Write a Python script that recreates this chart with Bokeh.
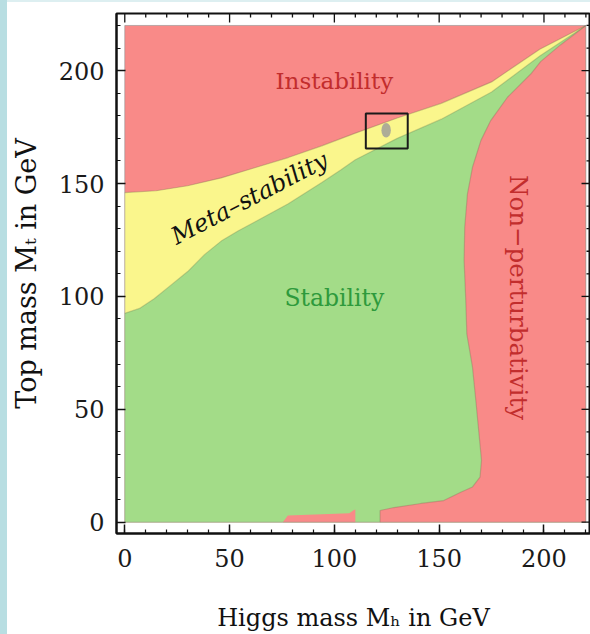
import math
from bokeh.plotting import figure
from bokeh.models import SingleIntervalTicker, Div, Range1d
from bokeh.layouts import row, column
from bokeh.embed import file_html
from bokeh.resources import INLINE
from bokeh.core.properties import value

# ---- data (GeV) ----
# boundary between Instability (above) and Meta-stability (below)
upper_x = [0, 15, 30, 46, 62, 78, 94, 110, 130, 151, 175, 198, 220]
upper_y = [146, 146.8, 149, 152.5, 157, 161.5, 166.7, 172.3, 179, 185.5, 195, 209.5, 220]
# boundary between Meta-stability (above) and Stability (below)
lower_x = [0, 7, 14, 22, 30, 38, 46, 54, 62, 78, 94, 103, 110, 130, 151, 175, 198, 220]
lower_y = [92.5, 94.7, 99, 105, 111, 118.5, 124.5, 129, 133, 141, 150.5, 156, 160.5, 170, 178.5, 190.5, 206.5, 220]
# Non-perturbativity boundary (from the top corner downwards)
np_x = [220, 208, 198.4, 193.7, 182.6, 174.6, 169.9, 165.9, 163.5, 162.2, 161.9, 162.7, 163.2,
        165.9, 167.5, 169.0, 170.2, 169.5, 165.9, 160.3, 152.2, 141.3, 128.4, 121.8, 121.8]
np_y = [220, 211.5, 204, 198.5, 188.2, 177.9, 169, 157.2, 145.4, 130.6, 115.9, 98.2, 83.4,
        68.7, 53.9, 39.2, 27.4, 20, 15.6, 13.3, 9.6, 8.3, 6.5, 5.2, 0]
# small non-perturbative patch at the bottom
np2_x = [75.4, 77.8, 107.1, 109.5, 110, 110]
np2_y = [0, 3.0, 4.0, 5.5, 5.5, 0]
# experimental box and point
box_x = [115, 135]
box_y = [165.5, 181]
pt_x = [124.7]
pt_y = [173.6]
region_max = 220
tick_step = 10
major_step = 50

label_text = ["Instability", "Stability"]
label_x = [100, 100]
label_y = [195.5, 99.5]

RED = "#F98A88"
YEL = "#FAF68C"
GRN = "#A3DC88"
SERIF = "DejaVu Serif"

X0, X1 = -3.95, 222.2
Y0, Y1 = -5.0, 225.3
FW, FH = 475, 520  # frame size in px

p = figure(width=583, height=632, x_range=Range1d(X0, X1), y_range=Range1d(Y0, Y1),
           output_backend="svg", toolbar_location=None,
           min_border_left=108, min_border_right=0, min_border_top=11, min_border_bottom=101)
p.outline_line_color = "#111111"
p.outline_line_width = 2
p.grid.visible = False
p.background_fill_color = "white"
p.border_fill_color = "white"

# regions
p.patch([0, 0, region_max, region_max], [0, region_max, region_max, 0], fill_color=RED, line_color=None)
p.patch([0] + upper_x + [region_max], [0] + upper_y + [0], fill_color=YEL, line_color=None)
p.patch([0] + lower_x + [region_max], [0] + lower_y + [0], fill_color=GRN, line_color=None)
p.patch(np_x + [region_max], np_y + [0], fill_color=RED, line_color=None)
p.patch(np2_x, np2_y, fill_color=RED, line_color=None)

# soft region edges
p.line(upper_x, upper_y, line_color="#7a6a50", line_alpha=0.35, line_width=1.2)
p.line(lower_x, lower_y, line_color="#6a7a50", line_alpha=0.3, line_width=1.2)
p.line(np_x, np_y, line_color="#806050", line_alpha=0.3, line_width=1.2)
p.line([0, 0, region_max, region_max, 0], [0, region_max, region_max, 0, 0],
       line_color="#909090", line_alpha=0.6, line_width=1)

# experimental point and box
p.ellipse(x=pt_x, y=pt_y, width=4.5, height=6.5, fill_color="#9a9a9a", fill_alpha=0.8, line_color=None)
p.quad(left=[box_x[0]], right=[box_x[1]], bottom=[box_y[0]], top=[box_y[1]],
       fill_color=None, line_color="#1a1a1a", line_width=2)

# region labels
p.text(x=[label_x[0]], y=[label_y[0]], text=[label_text[0]], text_color="#C22D2D",
       text_font=value(SERIF), text_font_size="23px", text_align="center", text_baseline="middle")
p.text(x=[label_x[1]], y=[label_y[1]], text=[label_text[1]], text_color="#2E9A3C",
       text_font=value(SERIF), text_font_size="23.5px", text_align="center", text_baseline="middle")
p.text(x=[59.5], y=[143.5], text=["Meta\u2013stability"], text_color="#111111", angle=0.478,
       text_font=value(SERIF), text_font_style="italic", text_font_size="24px",
       text_align="center", text_baseline="middle")
p.text(x=[188], y=[99.5], text=["Non\u2212perturbativity"], text_color="#C22D2D", angle=-math.pi / 2,
       text_font=value(SERIF), text_font_size="24.5px", text_align="center", text_baseline="middle")

# top and right frame ticks (pointing inwards)
tx = list(range(0, region_max + 1, tick_step))
ux = X1 - X0
uy = Y1 - Y0
maj_x = 9 * ux / FW
min_x = 4 * ux / FW
maj_y = 9 * uy / FH
min_y = 4 * uy / FH
p.segment(x0=tx, y0=[Y1] * len(tx), x1=tx,
          y1=[Y1 - (maj_y if t % major_step == 0 else min_y) for t in tx],
          line_color="#111111", line_width=1.3)
p.segment(x0=[X1] * len(tx), y0=tx,
          x1=[X1 - (maj_x if t % major_step == 0 else min_x) for t in tx], y1=tx,
          line_color="#111111", line_width=1.3)

# bottom / left axes
for ax in p.axis:
    ax.ticker = SingleIntervalTicker(interval=major_step, num_minor_ticks=major_step // tick_step)
    ax.axis_line_width = 2
    ax.axis_line_color = "#111111"
    ax.major_tick_in = 9
    ax.major_tick_out = 0
    ax.minor_tick_in = 4
    ax.minor_tick_out = 0
    ax.major_tick_line_width = 1.5
    ax.major_tick_line_color = "#111111"
    ax.minor_tick_line_width = 1.2
    ax.minor_tick_line_color = "#111111"
    ax.major_label_text_font = SERIF
    ax.major_label_text_font_size = "24px"
    ax.major_label_text_color = "#1a1a1a"
    ax.axis_label_text_font = SERIF
    ax.axis_label_text_font_style = "normal"
    ax.axis_label_text_font_size = "24px"
    ax.axis_label_text_color = "#111111"
p.below[0].axis_label = "Higgs mass M\u2095 in GeV"
p.left[0].axis_label = "Top mass M\u209c in GeV"
p.left[0].axis_label_text_font_size = "27px"
p.below[0].major_label_standoff = 15
p.below[0].axis_label_standoff = 34
p.left[0].major_label_standoff = 12
p.left[0].axis_label_standoff = 14

left_strip = Div(width=7, height=634, margin=0, styles={"background-color": "#B8DEE2"})
top_strip = Div(width=583, height=2, margin=0, styles={"background-color": "#DDEFF1"})
layout = row(left_strip, column(top_strip, p, spacing=0), spacing=0)

html = file_html(layout, INLINE)
html = html.replace("<head>", "<head><style>html, body { margin: 0; padding: 0; }</style>", 1)
open("out.html", "w").write(html)
